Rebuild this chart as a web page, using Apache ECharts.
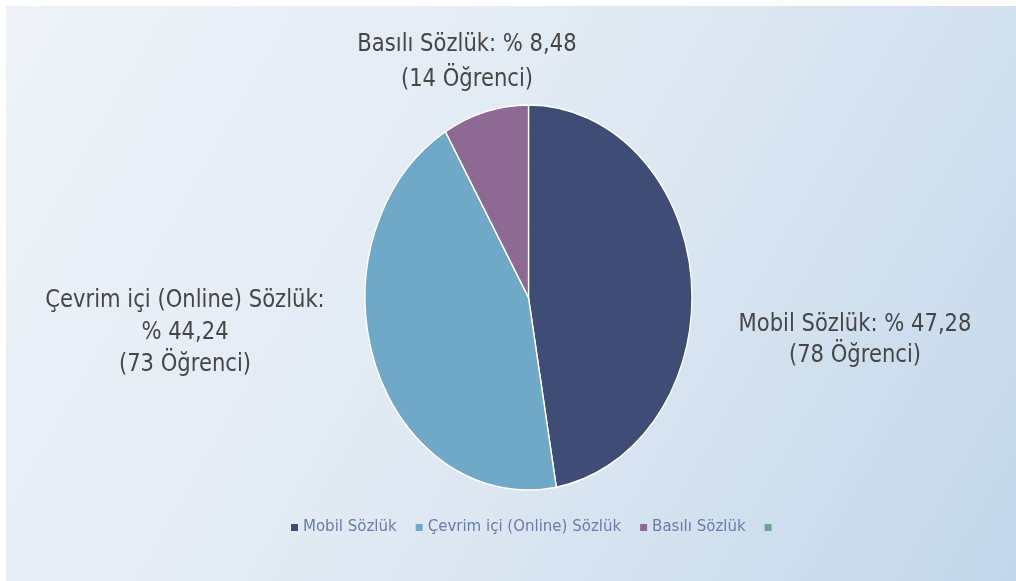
<!DOCTYPE html>
<html>
<head>
<meta charset="utf-8">
<script src="https://cdn.jsdelivr.net/npm/echarts@6/dist/echarts.min.js"></script>
<style>
  html, body { margin: 0; padding: 0; background: #ffffff; }
  #chart { width: 1016px; height: 581px; }
</style>
</head>
<body>
<div id="chart"></div>
<script>
// Sözlük türü tercihleri
const categories = ['Mobil Sözlük', 'Çevrim içi (Online) Sözlük', 'Basılı Sözlük'];
const percents = [47.28, 44.24, 8.48];
const students = [78, 73, 14];
const percentLabels = ['47,28', '44,24', '8,48'];
const colors = ['#3F4C75', '#6FA9C7', '#8E6994'];
const extraLegendColor = '#6AA68C';

const chart = echarts.init(document.getElementById('chart'));

// Pie geometry (the pie is drawn horizontally squeezed, like the text)
const CX = 528.5, CY = 297.5, R = 192.5, SX = 163.5 / 192.5;
const total = percents.reduce((a, b) => a + b, 0);

function sliceRenderer(params, api) {
  const i = params.seriesIndex;
  let before = 0;
  for (let k = 0; k < i; k++) before += percents[k];
  const start = -Math.PI / 2 + 2 * Math.PI * before / total;
  const end = start + 2 * Math.PI * api.value(0) / total;
  return {
    type: 'group',
    x: CX, y: CY, scaleX: SX,
    children: [{
      type: 'sector',
      shape: { cx: 0, cy: 0, r: R, r0: 0, startAngle: start, endAngle: end, clockwise: true },
      style: { fill: api.visual('color'), stroke: '#ffffff', lineWidth: 1.6 }
    }]
  };
}

const series = categories.map((name, i) => ({
  type: 'custom',
  name: name,
  coordinateSystem: 'none',
  itemStyle: { color: colors[i] },
  renderItem: sliceRenderer,
  data: [[percents[i]]]
}));
series.push({
  type: 'custom', name: ' ', coordinateSystem: 'none',
  itemStyle: { color: extraLegendColor },
  renderItem: () => null, data: []
});

const labelFont = '"DejaVu Sans", sans-serif';
function labelText(lines, x, y, lh) {
  return {
    type: 'text', x: x, y: y, scaleX: 0.88, z: 10,
    style: {
      text: lines.join('\n'),
      font: '24px ' + labelFont,
      fill: '#464646',
      align: 'center',
      verticalAlign: 'middle',
      lineHeight: lh
    }
  };
}

chart.setOption({
  animation: false,
  graphic: [
    {
      type: 'rect', z: -10, silent: true,
      shape: { x: 6, y: 6, width: 1010, height: 575 },
      style: {
        fill: new echarts.graphic.LinearGradient(0, 0, 1, 1, [
          { offset: 0, color: '#EFF3F9' },
          { offset: 0.5, color: '#E0E9F3' },
          { offset: 1, color: '#C3D7EA' }
        ])
      }
    },
    labelText([categories[2] + ': % ' + percentLabels[2], '(' + students[2] + ' Öğrenci)'], 467, 62, 35),
    labelText([categories[1] + ':', '% ' + percentLabels[1], '(' + students[1] + ' Öğrenci)'], 185, 333, 32),
    labelText([categories[0] + ': % ' + percentLabels[0], '(' + students[0] + ' Öğrenci)'], 855, 340, 31)
  ],
  legend: {
    left: 286, top: 515,
    icon: 'rect', itemWidth: 7, itemHeight: 7, itemGap: 19,
    textStyle: { color: '#6B7AA8', fontSize: 15, fontFamily: labelFont },
    data: categories.concat([' '])
  },
  series: series
});
</script>
</body>
</html>
